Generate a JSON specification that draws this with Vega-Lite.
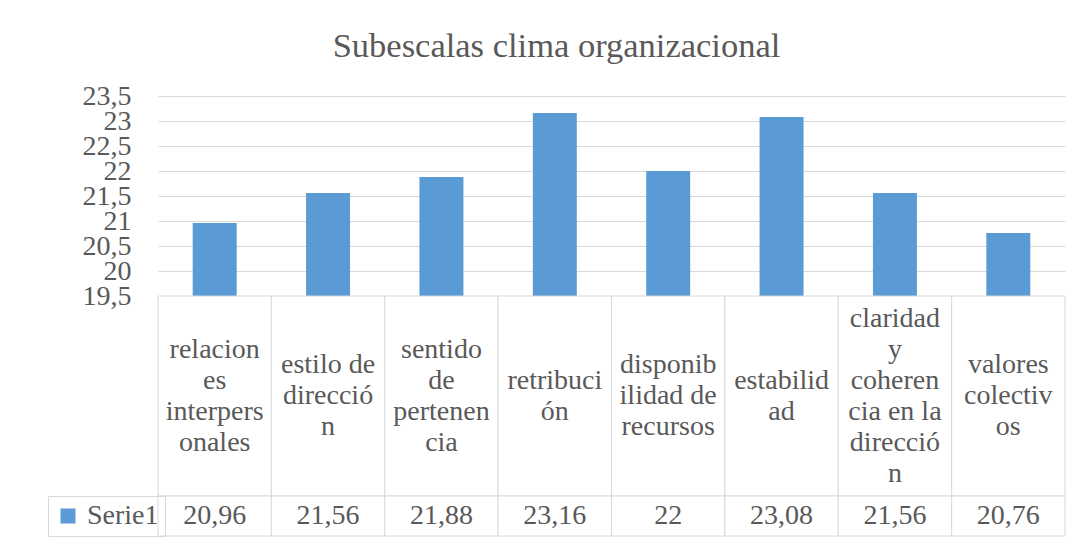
{
  "$schema": "https://vega.github.io/schema/vega-lite/v6.json",
  "padding": {"left": 47, "top": 28, "right": 5, "bottom": 6},
  "background": "white",
  "bounds": "flush",
  "title": {
    "text": "Subescalas clima organizacional",
    "font": "Liberation Serif",
    "fontSize": 34.5,
    "fontWeight": "normal",
    "color": "#595959",
    "anchor": "middle",
    "baseline": "top",
    "offset": 18
  },
  "config": {
    "view": {"stroke": null},
    "locale": {"number": {"decimal": ",", "thousands": ".", "grouping": [3], "currency": ["", " €"]}},
    "font": "Liberation Serif"
  },
  "data": {
    "values": [
      {"cat": "relaciones interpersonales", "label": "relacion\nes\ninterpers\nonales", "serie": "Serie1", "value": 20.96},
      {"cat": "estilo de dirección", "label": "estilo de\ndirecció\nn", "serie": "Serie1", "value": 21.56},
      {"cat": "sentido de pertenencia", "label": "sentido\nde\npertenen\ncia", "serie": "Serie1", "value": 21.88},
      {"cat": "retribución", "label": "retribuci\nón", "serie": "Serie1", "value": 23.16},
      {"cat": "disponibilidad de recursos", "label": "disponib\nilidad de\nrecursos", "serie": "Serie1", "value": 22},
      {"cat": "estabilidad", "label": "estabilid\nad", "serie": "Serie1", "value": 23.08},
      {"cat": "claridad y coherencia en la dirección", "label": "claridad\ny\ncoheren\ncia en la\ndirecció\nn", "serie": "Serie1", "value": 21.56},
      {"cat": "valores colectivos", "label": "valores\ncolectiv\nos", "serie": "Serie1", "value": 20.76}
    ]
  },
  "spacing": 0,
  "resolve": {"scale": {"x": "independent", "y": "independent"}},
  "vconcat": [
    {
      "width": 907,
      "height": 200,
      "mark": {"type": "bar"},
      "encoding": {
        "x": {
          "field": "cat", "type": "nominal", "sort": null,
          "scale": {"paddingInner": 0.612, "paddingOuter": 0.306},
          "axis": null
        },
        "y": {
          "field": "value", "type": "quantitative",
          "scale": {"domain": [19.5, 23.5], "zero": false, "nice": false},
          "axis": {
            "title": null,
            "values": [19.5, 20, 20.5, 21, 21.5, 22, 22.5, 23, 23.5],
            "format": ".1~f",
            "domain": false,
            "ticks": false,
            "labelPadding": 27,
            "labelFont": "Liberation Serif",
            "labelFontSize": 28,
            "labelColor": "#595959",
            "labelOverlap": false,
            "labelBaseline": "middle",
            "gridColor": "#d9d9d9",
            "gridWidth": 1
          }
        },
        "y2": {"datum": 19.5},
        "color": {
          "field": "serie", "type": "nominal",
          "scale": {"range": ["#5b9bd5"]},
          "legend": {
            "title": null,
            "orient": "none",
            "legendX": -110,
            "legendY": 400,
            "symbolType": "square",
            "symbolSize": 225,
            "symbolStrokeWidth": 0,
            "labelFont": "Liberation Serif",
            "labelFontSize": 28,
            "labelColor": "#595959",
            "labelOffset": 5,
            "padding": 6,
            "strokeColor": "#d9d9d9"
          }
        }
      }
    },
    {
      "width": 907,
      "height": 240,
      "encoding": {
        "x": {
          "field": "cat", "type": "nominal", "sort": null,
          "scale": {"paddingInner": 0, "paddingOuter": 0},
          "axis": null
        }
      },
      "layer": [
        {
          "mark": {"type": "rect", "fill": "white", "stroke": "#d9d9d9", "strokeWidth": 1},
          "encoding": {
            "y": {"datum": 1, "type": "quantitative", "scale": {"domain": [0, 6], "zero": false, "nice": false}, "axis": null},
            "y2": {"datum": 6}
          }
        },
        {
          "mark": {"type": "rect", "fill": "white", "stroke": "#d9d9d9", "strokeWidth": 1},
          "encoding": {
            "y": {"datum": 0, "type": "quantitative"},
            "y2": {"datum": 1}
          }
        },
        {
          "mark": {"type": "text", "font": "Liberation Serif", "fontSize": 28, "lineHeight": 31, "lineBreak": "\n", "color": "#595959", "align": "center", "baseline": "middle",
            "dy": {"expr": "-(length(split(datum.label, '\\n')) - 1) * 15.5"}},
          "encoding": {
            "y": {"datum": 3.5, "type": "quantitative"},
            "text": {"field": "label", "type": "nominal"}
          }
        },
        {
          "mark": {"type": "text", "font": "Liberation Serif", "fontSize": 28, "color": "#595959", "align": "center", "baseline": "middle"},
          "encoding": {
            "y": {"datum": 0.5, "type": "quantitative"},
            "text": {"field": "value", "type": "quantitative", "format": ".2~f"}
          }
        }
      ]
    }
  ]
}
